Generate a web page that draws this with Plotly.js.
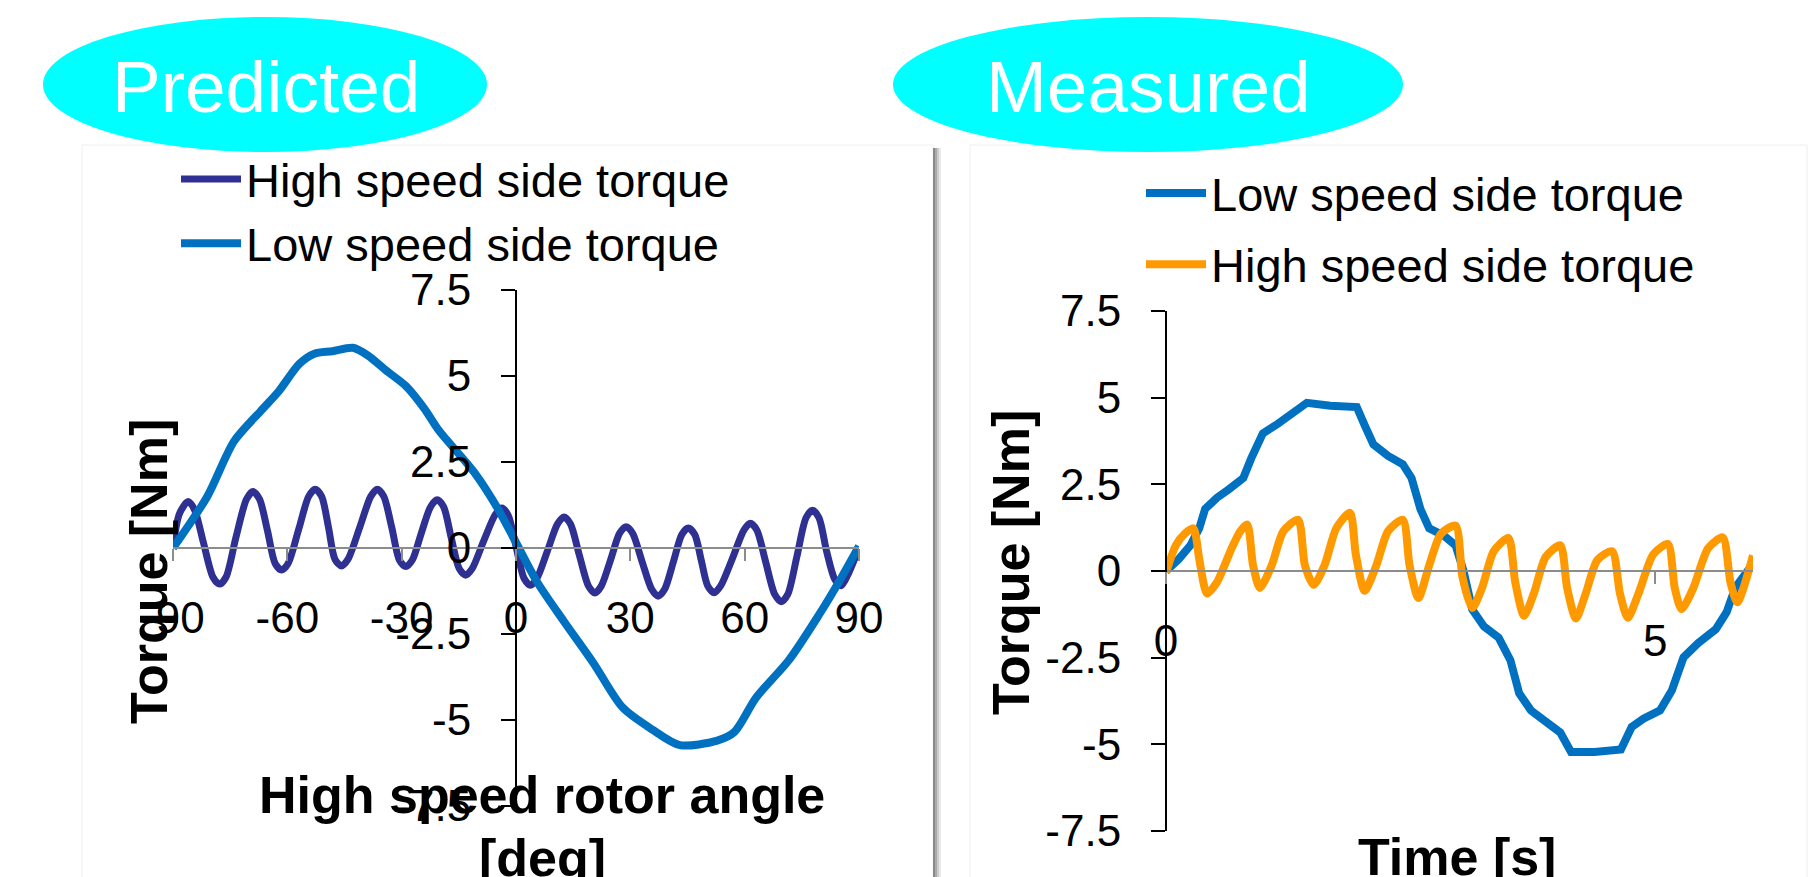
<!DOCTYPE html>
<html><head><meta charset="utf-8">
<script src="https://cdn.plot.ly/plotly-3.0.1.min.js"></script>
<style>html,body{margin:0;padding:0;background:#fff;overflow:hidden}#chart{width:1811px;height:877px}</style>
</head><body><div id="chart"></div>
<script>
// ---------- data ----------
// Predicted (left)
const predHighAngle = [-90,-88.3,-86,-84.3,-82,-79.5,-77.8,-76.1,-73.5,-70.7,-69,-67.3,-65.2,-63.2,-61.5,-59.8,-57,-54.4,-52.7,-51,-49.2,-47.5,-45.8,-44.1,-41,-38.1,-36.4,-34.7,-32.6,-30.6,-28.9,-27.2,-24.8,-22.4,-20.7,-19,-17,-14.9,-13.2,-11.5,-8.5,-5.45,-3.75,-2.05,0,2.1,3.8,5.5,8.2,10.9,12.6,14.3,16.6,19,20.7,22.4,24.8,27.2,28.9,30.6,33.1,35.6,37.3,39,41.3,43.5,45.2,46.9,48.6,50.3,52,53.7,56.8,59.8,61.5,63.2,65.5,67.9,69.6,71.3,73.7,76.1,77.8,79.5,81.5,83.6,85.3,87,90];
const predHighTorque = [0,1.0,1.35,1.1,0.15,-0.85,-1.05,-0.85,0.3,1.42,1.64,1.42,0.5,-0.45,-0.64,-0.45,0.55,1.5,1.71,1.5,0.6,-0.33,-0.52,-0.33,0.6,1.5,1.71,1.5,0.6,-0.35,-0.54,-0.35,0.45,1.2,1.4,1.2,0.3,-0.6,-0.79,-0.6,0.2,0.97,1.16,0.95,0.05,-0.88,-1.08,-0.88,-0.1,0.7,0.9,0.7,-0.2,-1.1,-1.31,-1.1,-0.35,0.43,0.62,0.43,-0.4,-1.2,-1.4,-1.2,-0.4,0.39,0.58,0.39,-0.35,-1.1,-1.3,-1.1,-0.3,0.52,0.72,0.52,-0.4,-1.35,-1.56,-1.35,-0.25,0.88,1.1,0.88,-0.1,-0.9,-1.1,-0.8,0];
const predLowAngle = [-90,-81,-74,-67,-62.3,-56.8,-52.9,-48.2,-42.8,-38.9,-34.2,-28.8,-24.1,-20.2,-10.9,-4.7,0,5.5,12.5,20.3,28,35.8,43,52.8,57.3,63,71.6,79.4,85.6,90];
const predLowTorque = [0,1.5,3.1,3.98,4.55,5.36,5.65,5.72,5.82,5.6,5.17,4.7,4.06,3.41,2.19,1.13,0.16,-0.98,-2.12,-3.34,-4.64,-5.28,-5.73,-5.6,-5.35,-4.35,-3.26,-1.96,-0.82,0.05];
// Measured (right)
const measLowTime = [0,0.13,0.25,0.34,0.40,0.52,0.64,0.79,0.87,0.99,1.14,1.29,1.44,1.68,1.95,2.03,2.12,2.27,2.42,2.51,2.60,2.69,2.84,2.96,3.04,3.13,3.25,3.40,3.52,3.61,3.73,3.88,4.03,4.14,4.38,4.65,4.76,4.88,5.05,5.17,5.29,5.44,5.62,5.73,5.82,5.97];
const measLowTorque = [0,0.34,0.74,1.23,1.79,2.11,2.35,2.68,3.24,3.97,4.24,4.53,4.85,4.77,4.73,4.21,3.65,3.32,3.08,2.68,1.79,1.23,1.02,0.74,0.01,-1.11,-1.60,-1.92,-2.57,-3.53,-4.02,-4.34,-4.66,-5.22,-5.22,-5.15,-4.5,-4.26,-4.02,-3.45,-2.49,-2.08,-1.68,-1.19,-0.47,0.1];
const measHighTime = [0,0.10,0.19,0.28,0.34,0.42,0.52,0.67,0.76,0.83,0.89,0.96,1.08,1.20,1.35,1.42,1.51,1.62,1.74,1.88,1.94,2.03,2.15,2.27,2.42,2.49,2.58,2.69,2.81,2.96,3.03,3.13,3.23,3.35,3.50,3.57,3.66,3.76,3.88,4.03,4.10,4.19,4.29,4.41,4.56,4.64,4.72,4.83,4.98,5.13,5.20,5.27,5.39,5.54,5.69,5.77,5.84,6.0];
const measHighTorque = [-0.05,0.74,1.07,1.23,0.34,-0.65,-0.33,0.65,1.15,1.34,0.16,-0.49,0.16,1.15,1.48,0.16,-0.40,0.16,1.23,1.68,0.48,-0.57,0.16,1.15,1.48,0.16,-0.78,0.16,1.07,1.31,-0.17,-1.07,-0.49,0.57,0.95,-0.33,-1.29,-0.65,0.40,0.74,-0.49,-1.37,-0.65,0.32,0.57,-0.65,-1.35,-0.65,0.48,0.78,-0.49,-1.10,-0.49,0.65,0.97,-0.33,-0.90,0.45];
// tick labels
const predXTicks = [-90,-60,-30,0,30,60,90];
const predXTickText = ['-90','-60','-30','0','30','60','90'];
const torqueTicks = [-7.5,-5,-2.5,0,2.5,5,7.5];
const torqueTickText = ['-7.5','-5','-2.5','0','2.5','5','7.5'];
const measXTicks = [0,5];
const measXTickText = ['0','5'];
const seriesNames = {high:'High speed side torque', low:'Low speed side torque'};

// ---------- layout helpers ----------
const W = 1811, H = 877;
const px = v => v / W, py = v => 1 - v / H;
const FONT = 'Arial, "Liberation Sans", sans-serif';
const NAVY = '#2E3192', BLUE = '#0070C0', ORANGE = '#FF9900';

const traces = [
  {x: predHighAngle, y: predHighTorque, name: seriesNames.high, type: 'scatter', mode: 'lines',
   line: {color: NAVY, width: 7, shape: 'spline', smoothing: 0.8}, xaxis: 'x', yaxis: 'y', legend: 'legend'},
  {x: predLowAngle, y: predLowTorque, name: seriesNames.low, type: 'scatter', mode: 'lines',
   line: {color: BLUE, width: 8, shape: 'spline', smoothing: 0.8}, xaxis: 'x', yaxis: 'y', legend: 'legend'},
  {x: measLowTime, y: measLowTorque, name: seriesNames.low, type: 'scatter', mode: 'lines',
   line: {color: BLUE, width: 8}, xaxis: 'x2', yaxis: 'y2', legend: 'legend2', legendgroup: 'a'},
  {x: measHighTime, y: measHighTorque, name: seriesNames.high, type: 'scatter', mode: 'lines',
   line: {color: ORANGE, width: 8, shape: 'spline', smoothing: 0.7}, xaxis: 'x2', yaxis: 'y2', legend: 'legend2', legendgroup: 'b'}
];

const xCommon = {ticks: 'outside', ticklen: 12, tickwidth: 2, tickcolor: '#8c8c8c', showline: true,
  linecolor: '#8c8c8c', linewidth: 2, showgrid: false, zeroline: false, anchor: 'free',
  tickfont: {family: FONT, size: 44, color: '#000'}, ticklabelstandoff: 19, fixedrange: true};
const yCommon = {ticks: 'outside', ticklen: 14, tickwidth: 2, tickcolor: '#000', showline: true,
  linecolor: '#000', linewidth: 2, showgrid: false, zeroline: false, anchor: 'free', side: 'left',
  range: [-7.5, 7.5], tickmode: 'array', tickvals: torqueTicks, ticktext: torqueTickText,
  tickfont: {family: FONT, size: 44, color: '#000'}, ticklabelstandoff: 21, fixedrange: true};

const titleFont = {family: FONT, size: 52, color: '#000', weight: 'bold'};
const note = (text, x, y, extra) => Object.assign({text: text, xref: 'paper', yref: 'paper', x: px(x), y: py(y),
  xanchor: 'center', yanchor: 'middle', showarrow: false, font: titleFont}, extra || {});

const layout = {
  width: W, height: H, margin: {l: 0, r: 0, t: 0, b: 0},
  paper_bgcolor: '#fff', plot_bgcolor: 'rgba(0,0,0,0)', hovermode: false,
  xaxis: Object.assign({}, xCommon, {domain: [px(173), px(859)], range: [-90, 90], tickmode: 'array',
    tickvals: predXTicks, ticktext: predXTickText, position: py(548)}),
  yaxis: Object.assign({}, yCommon, {domain: [py(806), py(290)], position: px(516)}),
  xaxis2: Object.assign({}, xCommon, {domain: [px(1166), px(1753)], range: [0, 6.0], tickmode: 'array',
    tickvals: measXTicks, ticktext: measXTickText, position: py(571)}),
  yaxis2: Object.assign({}, yCommon, {domain: [py(831), py(311)], position: px(1166)}),
  showlegend: true,
  legend: {x: px(176), y: py(142), xanchor: 'left', yanchor: 'top', bgcolor: 'rgba(0,0,0,0)',
    font: {family: FONT, size: 47, color: '#000'}, itemwidth: 60, tracegroupgap: 0},
  legend2: {x: px(1141), y: py(156), xanchor: 'left', yanchor: 'top', bgcolor: 'rgba(0,0,0,0)',
    font: {family: FONT, size: 47, color: '#000'}, itemwidth: 60, tracegroupgap: 7, traceorder: 'grouped'},
  shapes: [
    // faint picture frames
    {type: 'rect', xref: 'paper', yref: 'paper', x0: px(82), x1: px(933), y0: py(145), y1: py(900),
     line: {color: '#eeeeee', width: 1}, fillcolor: 'rgba(0,0,0,0)', layer: 'below'},
    {type: 'rect', xref: 'paper', yref: 'paper', x0: px(970), x1: px(1807), y0: py(145), y1: py(900),
     line: {color: '#eeeeee', width: 1}, fillcolor: 'rgba(0,0,0,0)', layer: 'below'},
    // shadow of left frame
    {type: 'rect', xref: 'paper', yref: 'paper', x0: px(933), x1: px(935), y0: py(148), y1: py(900), line: {width: 0}, fillcolor: '#8a8a8a', layer: 'below'},
    {type: 'rect', xref: 'paper', yref: 'paper', x0: px(935), x1: px(937), y0: py(148), y1: py(900), line: {width: 0}, fillcolor: '#aaaaaa', layer: 'below'},
    {type: 'rect', xref: 'paper', yref: 'paper', x0: px(937), x1: px(939), y0: py(148), y1: py(900), line: {width: 0}, fillcolor: '#cccccc', layer: 'below'},
    {type: 'rect', xref: 'paper', yref: 'paper', x0: px(939), x1: px(941), y0: py(148), y1: py(900), line: {width: 0}, fillcolor: '#e8e8e8', layer: 'below'},
    // cyan ellipses
    {type: 'circle', xref: 'paper', yref: 'paper', x0: px(43), x1: px(487), y0: py(17), y1: py(152),
     line: {width: 0}, fillcolor: '#00FFFF', layer: 'below'},
    {type: 'circle', xref: 'paper', yref: 'paper', x0: px(893), x1: px(1403), y0: py(17), y1: py(152),
     line: {width: 0}, fillcolor: '#00FFFF', layer: 'below'}
  ],
  annotations: [
    note('Predicted', 266, 86.5, {font: {family: FONT, size: 73, color: '#fff'}}),
    note('Measured', 1148, 86.5, {font: {family: FONT, size: 73, color: '#fff'}}),
    note('High speed rotor angle', 542, 795),
    note('[deg]', 542, 858),
    note('Torque [Nm]', 149, 572, {textangle: -90}),
    note('Time [s]', 1457, 857),
    note('Torque [Nm]', 1011, 563, {textangle: -90})
  ]
};

Plotly.newPlot('chart', traces, layout, {displayModeBar: false, staticPlot: true});
</script>
</body></html>
